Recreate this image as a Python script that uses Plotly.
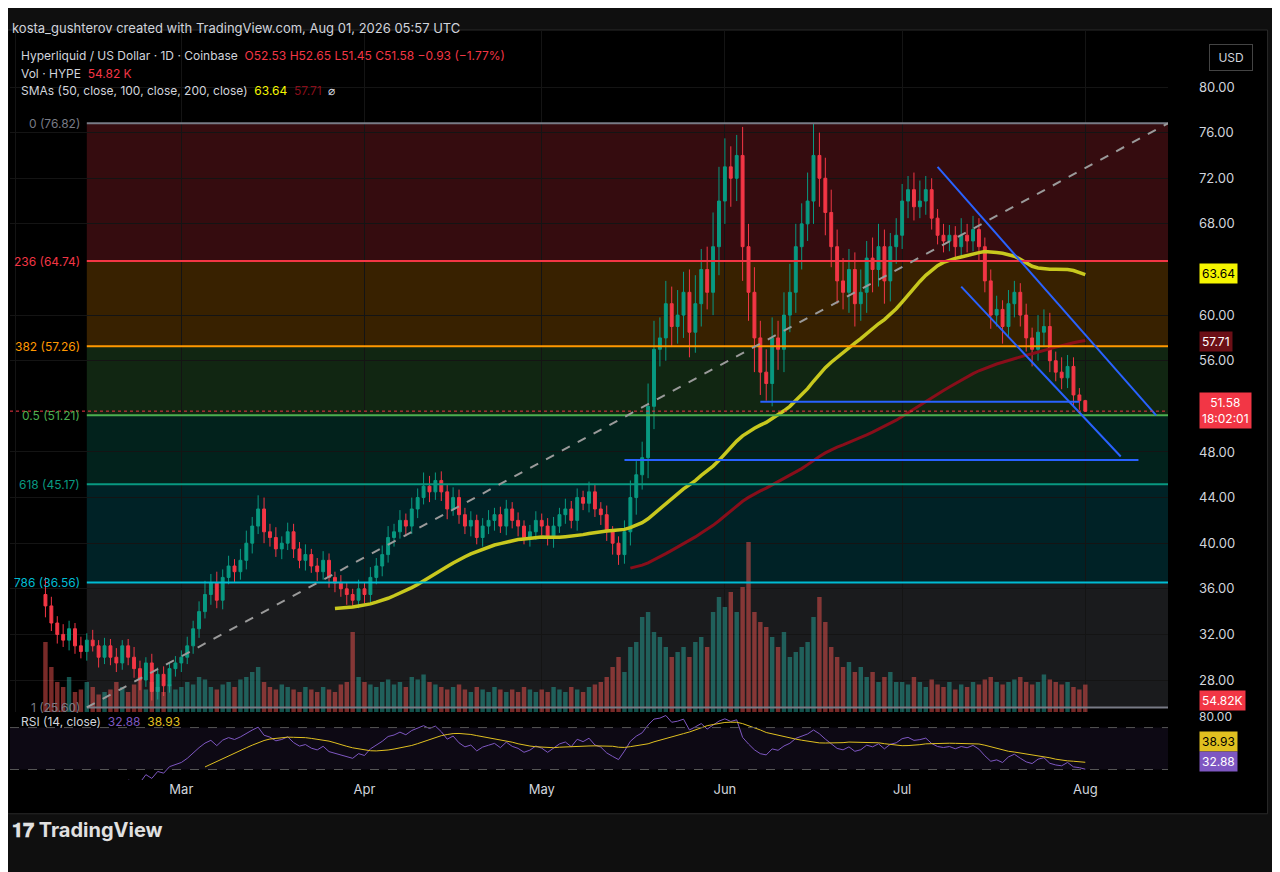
import pandas as pd
import numpy as np
import plotly.graph_objects as go

# daily data, Feb 6 .. Aug 1
dates = pd.date_range("2026-02-06", "2026-08-01", freq="D")

first_open = 35.5
closes = [34.5,33,32,31.5,32.5,31,30.5,31.5,31,30,31,30,29.5,31,30,29,28,29.5,27,28.5,27.5,29,29.5,
          30,31,32.5,34,35.5,36.5,35,37,38,37.5,38.5,40,41.5,43,41,40.5,39.5,40,41,39.5,38.5,39,38,37.5,38.5,37,36.5,36,35.5,35,36,
          35.5,37,38,39,40.5,41,42,41.5,43,44,45,44.5,45.5,44.5,43,44,42.5,41.5,42,40.5,41.5,42,42.5,41.5,43,42,41.5,40.5,41,42,
          41.5,40.5,41.5,42.5,43,42,44,43.5,44.5,43,42.5,41,40,39,41,44,46,47.5,52,57,58,61,59,60,62,58.5,61,64,62,66,70,
          73,72,74,66,62,58,55,54,58,57,60,62,66,68,70,74,72,69,66,63,62,64,61,62,65,64,66,63,66,67,
          70,71,69.5,70,71,68.5,67,66.5,67,66,67,66.5,67.5,66,63,60,60.5,59,61,62,60,58,57,58.5,59,56,55,54.5,55.5,53,52.5,
          51.58]
up_wick = [1.5,0.8,0.6,0.9,0.7,0.5,0.8,0.6,0.9,0.5,0.7,0.6,0.8,0.5,0.6,0.9,0.7,0.5,0.8,0.6,0.7,0.5,0.6,
           0.6,0.8,0.7,0.9,1.2,0.8,1,0.7,0.9,0.6,1,1.1,0.8,1.2,1.0,0.7,0.9,0.6,0.8,0.7,0.6,0.9,0.5,0.7,0.8,0.6,0.5,0.7,0.6,0.5,0.8,
           0.6,0.9,0.7,0.8,1,0.7,0.9,0.6,1,0.8,1.2,0.9,0.7,0.8,0.6,0.9,0.7,0.6,0.8,0.5,0.7,0.9,0.6,0.7,0.8,0.6,0.7,0.5,0.6,0.8,
           0.6,0.7,0.8,0.6,0.9,0.7,0.8,0.6,0.9,0.7,0.6,0.8,0.5,0.6,1,1.5,1.2,1.4,2,2.5,1.8,2,1.5,2.2,1.8,2,2.5,1.8,2,3,3,
           2.5,1.8,1.8,2.5,2,2.2,1.5,2,1.8,1.5,2,2.5,2,1.8,2.5,2.8,2,1.8,2,1.5,2,1.8,1.5,2,1.5,1.8,2,1.5,1.2,1.5,
           1.5,1.2,1.5,1.8,1.2,1,0.8,1,0.9,0.8,1.5,1,1.2,1,0.8,1,1.2,0.8,1.2,1,0.8,1,0.9,1.5,1.5,1.2,0.8,1.3,1,0.8,0.6,
           0.07]
dn_wick = [1.0,0.7,0.8,0.6,0.9,0.7,0.6,0.8,0.5,0.9,0.6,0.7,0.8,0.6,0.7,0.8,0.9,0.6,0.8,0.7,0.9,0.6,0.7,
           0.8,0.6,0.7,0.8,0.6,0.9,0.7,0.8,0.6,0.9,0.7,0.8,0.9,0.7,1.0,0.8,0.7,0.9,0.6,0.8,0.7,0.9,0.6,0.8,0.7,0.9,0.8,0.7,0.9,0.6,0.7,
           0.8,0.7,0.6,0.9,0.7,0.8,0.6,0.9,0.7,0.8,0.6,0.9,0.7,0.8,0.9,0.6,0.8,0.7,0.9,0.6,0.8,0.7,0.9,0.6,0.8,0.7,0.9,0.6,0.8,0.7,
           0.8,0.7,0.9,0.6,0.8,0.7,0.9,0.6,0.8,0.7,0.9,0.8,1.0,0.9,0.8,1.2,1.5,1.3,1.8,2,1.5,2,1.8,1.5,2,2.2,1.8,2,1.5,2,2.5,
           2,2.5,2,3,2.5,3,2,1.5,2,1.8,2,1.5,1.8,2,1.5,2,2.5,2,1.8,2,1.5,1.8,2,1.5,1.8,2,1.5,2,1.8,1.5,
           1.2,1.5,1.2,1.0,1.2,1.0,0.8,1.0,0.9,1.0,0.8,1.0,0.9,1.2,1.0,1.2,1.0,1.5,1.0,1.2,1.0,1.2,1.5,1.0,1.2,1.0,0.8,1.0,0.9,1.0,0.8,
           0.07]
volume_k = [140,90,60,50,70,40,45,60,50,35,40,45,60,50,40,55,70,45,60,50,40,55,45,
            50,60,55,70,65,50,45,55,60,50,65,70,80,90,60,50,45,55,50,45,40,50,45,40,50,45,40,55,60,160,70,
            60,55,50,60,65,55,60,50,70,65,75,60,55,50,45,50,55,45,40,50,45,40,50,45,40,45,40,50,45,40,
            45,40,50,45,40,50,45,40,50,55,60,70,90,110,80,130,140,190,200,160,150,130,110,120,130,110,140,150,130,200,230,
            210,240,200,250,340,200,180,170,150,130,160,110,120,130,140,190,230,180,130,110,90,100,80,90,70,80,60,70,80,60,
            60,55,70,60,50,65,55,50,60,45,55,50,60,55,65,70,60,55,60,65,70,60,55,60,75,65,60,55,60,50,45,
            54.82]

fib_levels = [76.82, 64.74, 57.26, 51.21, 45.17, 36.56, 25.60]
fib_names = ["0", "236", "382", "0.5", "618", "786", "1"]
fib_colors = ["#787b86", "#f23645", "#ff9800", "#4caf50", "#089981", "#00bcd4", "#787b86"]
fib_fills = ["rgba(242,54,69,0.22)", "rgba(255,152,0,0.22)", "rgba(76,175,80,0.22)",
             "rgba(8,153,129,0.22)", "rgba(0,188,212,0.18)", "rgba(120,123,134,0.22)"]

price_ticks = [28, 32, 36, 40, 44, 48, 56, 60, 68, 72, 76, 80]

df = pd.DataFrame({"close": closes, "uw": up_wick, "dw": dn_wick, "vol": volume_k}, index=dates)
df["open"] = df["close"].shift(1).fillna(first_open)
df["high"] = df[["open", "close"]].max(axis=1) + df["uw"]
df["low"] = df[["open", "close"]].min(axis=1) - df["dw"]
df["sma50"] = df["close"].rolling(50).mean()
df["sma100"] = df["close"].rolling(100).mean()
d = df["close"].diff()
gain = d.clip(lower=0).ewm(alpha=1/14, adjust=False).mean()
loss = (-d.clip(upper=0)).ewm(alpha=1/14, adjust=False).mean()
df["rsi"] = 100 - 100 / (1 + gain / loss)
df.loc[df.index[:14], "rsi"] = np.nan
df["rsi_ma"] = df["rsi"].rolling(14).mean()
up = df["close"] >= df["open"]

fig = go.Figure()
fig.add_trace(go.Bar(x=dates, y=df["vol"], yaxis="y3", width=86400000*0.75,
                     marker_color=np.where(up, "rgba(38,166,154,0.5)", "rgba(239,83,80,0.5)"),
                     marker_line_width=0))
fig.add_trace(go.Candlestick(x=dates, open=df["open"], high=df["high"], low=df["low"], close=df["close"],
                             increasing=dict(line=dict(color="#089981", width=1), fillcolor="#089981"),
                             decreasing=dict(line=dict(color="#f23645", width=1), fillcolor="#f23645"),
                             whiskerwidth=0))
fig.add_trace(go.Scatter(x=dates, y=df["sma100"], mode="lines", line=dict(color="#880e1a", width=3)))
fig.add_trace(go.Scatter(x=dates, y=df["sma50"], mode="lines", line=dict(color="#c8c81e", width=3.5)))
fig.add_trace(go.Scatter(x=dates, y=df["rsi"], mode="lines", line=dict(color="#7e57c2", width=1), xaxis="x2", yaxis="y2"))
fig.add_trace(go.Scatter(x=dates, y=df["rsi_ma"], mode="lines", line=dict(color="#e0c020", width=1), xaxis="x2", yaxis="y2"))

shapes = []
x0f, x1f = "2026-02-13", "2026-08-15"
for i in range(6):
    shapes.append(dict(type="rect", x0=x0f, x1=x1f, y0=fib_levels[i+1], y1=fib_levels[i],
                       fillcolor=fib_fills[i], line_width=0, layer="below"))
for lv, c in zip(fib_levels, fib_colors):
    shapes.append(dict(type="line", x0=x0f, x1=x1f, y0=lv, y1=lv, line=dict(color=c, width=2)))
shapes.append(dict(type="line", x0=x0f, x1=x1f, y0=25.6, y1=76.82, line=dict(color="#9a9a9a", width=2, dash="dash")))
blue = dict(color="#2962ff", width=2)
shapes += [dict(type="line", x0="2026-07-07", y0=73.0, x1="2026-08-13", y1=51.2, line=blue),
           dict(type="line", x0="2026-07-11", y0=62.5, x1="2026-08-07", y1=47.6, line=blue),
           dict(type="line", x0="2026-06-07", y0=52.4, x1="2026-07-31", y1=52.4, line=blue),
           dict(type="line", x0="2026-05-15", y0=47.3, x1="2026-08-10", y1=47.3, line=blue),
           dict(type="line", x0="2026-01-31", y0=51.58, x1="2026-08-15", y1=51.58, line=dict(color="#f23645", width=1, dash="dot")),
           dict(type="rect", xref="x2", yref="y2", x0="2026-01-31", x1="2026-08-15", y0=30, y1=70,
                fillcolor="rgba(126,87,194,0.1)", line_width=0, layer="below")]
for lv in (70, 30):
    shapes.append(dict(type="line", xref="x2", yref="y2", x0="2026-01-31", x1="2026-08-15", y0=lv, y1=lv,
                       line=dict(color="#555", width=1, dash="dash")))
shapes.append(dict(type="rect", xref="paper", yref="paper", x0=-0.002, x1=1.086, y0=-0.045, y1=1.0,
                   fillcolor="#000", line=dict(color="#2a2a2a", width=1), layer="below"))

ann = []
for lv, n, c in zip(fib_levels, fib_names, fib_colors):
    ann.append(dict(xref="paper", yref="y", x=0.062, y=lv, text=f"{n} ({lv:.2f})", showarrow=False,
                    xanchor="right", font=dict(color=c, size=12)))

def tag(y, text, bg, fg="#fff", yref="y"):
    ann.append(dict(xref="paper", yref=yref, x=1.027, y=y, text=text, showarrow=False, xanchor="left",
                    bgcolor=bg, font=dict(color=fg, size=12), borderpad=2))

tag(63.64, "63.64", "#f5f500", "#000")
tag(57.71, "57.71", "#6b0f16")
tag(51.6, "51.58<br>18:02:01", "#f23645")
tag(26.2, "54.82K", "#f23645")
tag(0.037, "38.93", "#e0c020", "#000", "paper")
tag(0.011, "32.88", "#7e57c2", "#fff", "paper")

hdr = [(1.016, "kosta_gushterov created with TradingView.com, Aug 01, 2026 05:57 UTC", 13, 0.0),
       (0.979, "Hyperliquid / US Dollar · 1D · Coinbase  <span style='color:#f23645'>O52.53 H52.65 L51.45 C51.58 −0.93 (−1.77%)</span>", 12, 0.008),
       (0.955, "Vol · HYPE  <span style='color:#f23645'>54.82 K</span>", 12, 0.008),
       (0.932, "SMAs (50, close, 100, close, 200, close)  <span style='color:#f5f500'>63.64</span>  <span style='color:#880e1a'>57.71</span>  ⌀", 12, 0.008)]
for y, t, s, x in hdr:
    ann.append(dict(xref="paper", yref="paper", x=x, y=y, text=t, showarrow=False, xanchor="left",
                    font=dict(color="#d1d4dc", size=s)))
ann.append(dict(xref="paper", yref="paper", x=0.008, y=0.065, text="RSI (14, close)  <span style='color:#7e57c2'>32.88</span>  <span style='color:#e0c020'>38.93</span>",
                showarrow=False, xanchor="left", font=dict(color="#d1d4dc", size=12)))
ann.append(dict(xref="paper", yref="paper", x=1.035, y=0.981, text=" USD ", showarrow=False, xanchor="left",
                bordercolor="#444", borderwidth=1, borderpad=5, font=dict(color="#d1d4dc", size=12)))
ann.append(dict(xref="paper", yref="paper", x=0.0, y=-0.085, text="<b>𝟏𝟕 TradingView</b>", showarrow=False, xanchor="left",
                font=dict(color="#e0e0e0", size=20)))

# page has an 8px body margin, so shrink the figure to fit the window
fig.update_layout(
    width=1272, height=864, margin=dict(l=2, r=112, t=22, b=92),
    paper_bgcolor="#0f0f0f", plot_bgcolor="rgba(0,0,0,0)", showlegend=False,
    font=dict(family="Inter, Noto Sans, sans-serif", color="#d1d4dc"),
    shapes=shapes, annotations=ann,
    xaxis=dict(domain=[0, 1], range=["2026-01-31", "2026-08-15"], rangeslider_visible=False,
               showticklabels=False, showgrid=True, gridcolor="#141414", anchor="y"),
    xaxis2=dict(domain=[0, 1], range=["2026-01-31", "2026-08-15"], matches="x", anchor="y2",
                tickvals=["2026-03-01", "2026-04-01", "2026-05-01", "2026-06-01", "2026-07-01", "2026-08-01"],
                ticktext=["Mar", "Apr", "May", "Jun", "Jul", "Aug"], showgrid=False,
                tickfont=dict(size=13, color="#d1d4dc")),
    yaxis=dict(domain=[0.0907, 1], range=[25.2, 85], side="right", tickvals=price_ticks,
               ticktext=[f"{v:.2f}" for v in price_ticks], gridcolor="#141414",
               tickfont=dict(size=13, color="#d1d4dc"), ticklabelstandoff=30, zeroline=False),
    yaxis2=dict(domain=[0, 0.0867], range=[20, 82], side="right", tickvals=[80], ticktext=["80.00"],
                showgrid=False, tickfont=dict(size=12, color="#d1d4dc"), ticklabelstandoff=30, zeroline=False),
    yaxis3=dict(overlaying="y", range=[0, 1364], visible=False),
)

fig.write_html("out.html")
